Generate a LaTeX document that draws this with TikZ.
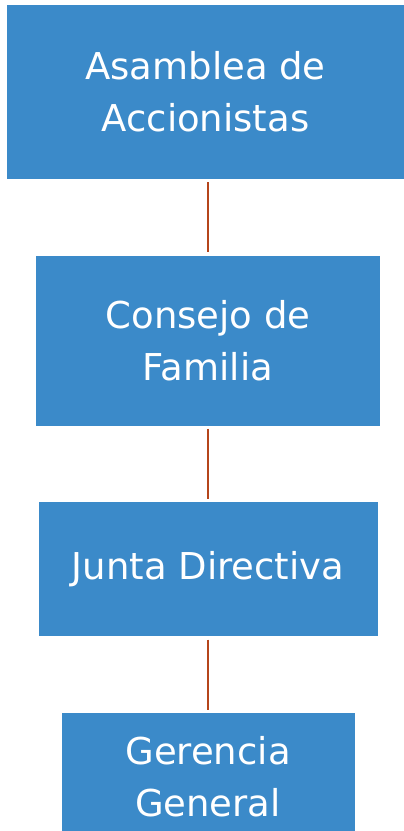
\documentclass[tikz,border=0pt]{standalone}
\usepackage{fontspec}
\setmainfont{DejaVu Sans}
\usetikzlibrary{positioning}
\definecolor{boxblue}{RGB}{59,138,201}
\definecolor{linkred}{RGB}{181,69,27}

\begin{document}
\begin{tikzpicture}[x=1pt,y=1pt,node distance=76pt,semithick]
  \tikzstyle{box}=[fill=boxblue, draw=none, text=white, align=center,
                   font=\fontsize{37}{52}\selectfont, inner sep=0pt]
  \tikzstyle{link}=[draw=linkred, line width=2.5pt, shorten >=3pt, shorten <=3pt]

  \useasboundingbox (0,0) rectangle (404,-831);

  \node[box, minimum width=397pt, minimum height=174pt] (asamblea) at (205.5,-92)
       {Asamblea de\\Accionistas};
  \node[box, minimum width=344pt, minimum height=170pt, xshift=2.5pt]
       (consejo) [below=of asamblea] {Consejo de\\Familia};
  \node[box, minimum width=339pt, minimum height=134pt]
       (junta) [below=of consejo] {Junta Directiva};
  \node[box, minimum width=293pt, minimum height=128pt]
       (gerencia) [below=of junta] {Gerencia\\General};

  \path (consejo.north |- asamblea.south) edge[link] (consejo.north)
        (junta.north |- consejo.south)    edge[link] (junta.north)
        (gerencia.north |- junta.south)   edge[link] (gerencia.north);
\end{tikzpicture}
\end{document}
